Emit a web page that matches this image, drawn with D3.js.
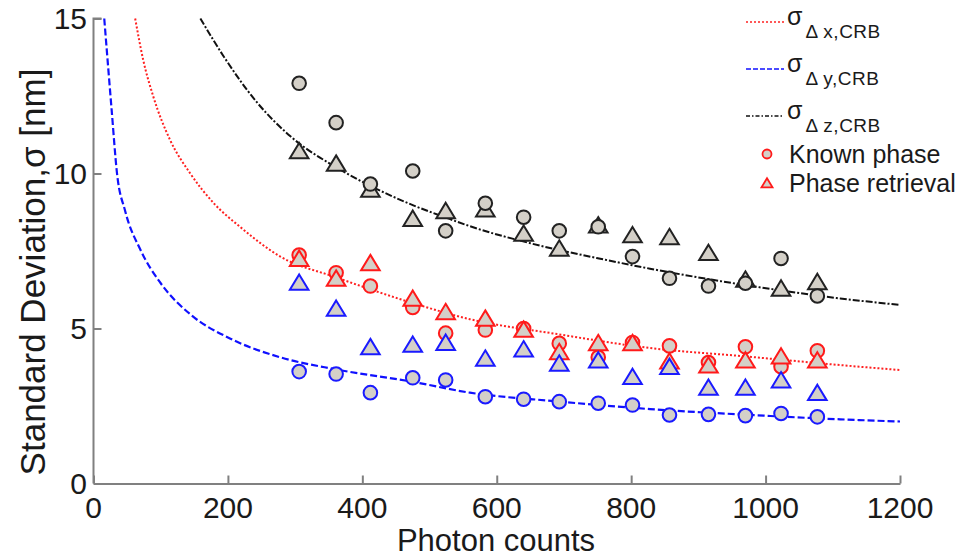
<!DOCTYPE html>
<meta charset="utf-8">
<style>
body { margin: 0; background: #fff; }
text { font-family: "Liberation Sans", Arial, sans-serif; fill: #1a1a1a; }
.axis path, .axis line { stroke: #808080; stroke-width: 2px; }
</style>
<svg width="968" height="558"></svg>
<script src="https://d3js.org/d3.v7.min.js"></script>
<script>

// photon counts of the measured points
var counts = [306, 361, 412, 475, 524, 583, 640, 693, 751, 802, 857, 915, 970, 1023, 1077];

// measured std dev (nm), known phase (circles) and phase retrieval (triangles)
var xKnown = [7.37, 6.80, 6.37, 5.68, 4.85, 4.95, 5.00, 4.52, 4.07, 4.55, 4.44, 3.90, 4.41, 3.77, 4.28];
var xRetr  = [7.26, 6.62, 7.12, 5.97, 5.54, 5.33, 4.97, 4.25, 4.54, 4.54, 3.95, 3.82, 3.98, 4.11, 3.98];
var yKnown = [3.61, 3.53, 2.93, 3.41, 3.34, 2.80, 2.72, 2.64, 2.59, 2.53, 2.21, 2.23, 2.19, 2.26, 2.15];
var yRetr  = [6.49, 5.65, 4.41, 4.49, 4.55, 4.04, 4.34, 3.88, 3.98, 3.45, 3.77, 3.10, 3.10, 3.34, 2.93];
var zKnown = [12.91, 11.64, 9.66, 10.08, 8.15, 9.04, 8.59, 8.15, 8.28, 7.32, 6.62, 6.37, 6.46, 7.26, 6.05];
var zRetr  = [10.73, 10.33, 9.49, 8.55, 8.80, 8.85, 8.07, 7.59, 8.34, 8.02, 7.96, 7.45, 6.59, 6.30, 6.51];

// CRB curves
var crbXn = [62, 74, 89, 114, 144, 179, 218, 278, 361, 475, 560, 690, 828, 970, 1111, 1200];
var crbXv = [15, 13.66, 12.48, 11.08, 10.0, 9.04, 8.28, 7.32, 6.65, 5.82, 5.30, 4.82, 4.37, 4.10, 3.82, 3.66];
var crbYn = [16, 27, 35, 47, 70, 100, 145, 203, 278, 361, 475, 560, 690, 828, 970, 1111, 1200];
var crbYv = [15, 12.05, 10.0, 8.8, 7.53, 6.46, 5.44, 4.68, 4.07, 3.68, 3.28, 2.93, 2.65, 2.40, 2.22, 2.07, 2.0];
var crbZn = [159, 193, 243, 293, 361, 412, 475, 524, 560, 650, 754, 828, 970, 1111, 1200];
var crbZv = [15, 13.8, 12.3, 11.2, 10.2, 9.6, 8.98, 8.58, 8.3, 7.75, 7.25, 6.93, 6.40, 5.97, 5.76];

var xTicks = [0, 200, 400, 600, 800, 1000, 1200];
var yTicks = [0, 5, 10, 15];

var svg = d3.select("svg");

var x = d3.scaleLinear().domain([0, 1200]).range([93.5, 900]);
var y = d3.scaleLinear().domain([0, 15]).range([483.5, 18.5]);

var fillGray = "#d4d0c8";

// axes: only left and bottom, ticks inward
var xAxis = svg.append("g")
    .attr("class", "axis")
    .attr("transform", "translate(0," + y(0) + ")")
    .call(d3.axisBottom(x).tickValues(xTicks).tickSizeInner(-8).tickSizeOuter(0).tickFormat(""));
var yAxis = svg.append("g")
    .attr("class", "axis")
    .attr("transform", "translate(" + x(0) + ",0)")
    .call(d3.axisLeft(y).tickValues(yTicks).tickSizeInner(-8).tickSizeOuter(0).tickFormat(""));
yAxis.select(".domain").attr("d", "M8," + y(15) + "H0V" + y(0));

svg.append("g").selectAll("text")
    .data(xTicks)
    .enter().append("text")
      .attr("x", function(d) { return x(d); })
      .attr("y", 518)
      .attr("text-anchor", "middle")
      .style("font-size", "30px")
      .text(function(d) { return d; });

svg.append("g").selectAll("text")
    .data(yTicks)
    .enter().append("text")
      .attr("x", 87)
      .attr("y", function(d) { return y(d) + 10.5; })
      .attr("text-anchor", "end")
      .style("font-size", "30px")
      .text(function(d) { return d; });

svg.append("text")
    .attr("x", 496)
    .attr("y", 551)
    .attr("text-anchor", "middle")
    .style("font-size", "31px")
    .text("Photon counts");

svg.append("text")
    .attr("transform", "translate(45,272) rotate(-90)")
    .attr("text-anchor", "middle")
    .style("font-size", "35px")
    .text("Standard Deviation,\u03c3 [nm]");

// CRB lines
var line = d3.line()
    .x(function(d) { return x(d[0]); })
    .y(function(d) { return y(d[1]); })
    .curve(d3.curveMonotoneX);

var curves = [
  { n: crbXn, v: crbXv, color: "#ff2020", dash: "2,2", w: 2 },
  { n: crbYn, v: crbYv, color: "#1010ff", dash: "7,3", w: 2.2 },
  { n: crbZn, v: crbZv, color: "#111", dash: "7,2,2,2", w: 2 }
];

svg.append("g").selectAll("path")
    .data(curves)
    .enter().append("path")
      .attr("fill", "none")
      .attr("stroke", function(d) { return d.color; })
      .attr("stroke-width", function(d) { return d.w; })
      .attr("stroke-dasharray", function(d) { return d.dash; })
      .attr("d", function(d) { return line(d3.zip(d.n, d.v)); });

// markers
function triPath(s) {
  return "M0," + (-s * 0.85) + "L" + s + "," + (s * 0.8) + "L" + (-s) + "," + (s * 0.8) + "Z";
}

var series = [
  { vals: zRetr, color: "#222", shape: "tri" },
  { vals: zKnown, color: "#222", shape: "circ" },
  { vals: xKnown, color: "#ff1a1a", shape: "circ" },
  { vals: xRetr, color: "#ff1a1a", shape: "tri" },
  { vals: yKnown, color: "#1a1aff", shape: "circ" },
  { vals: yRetr, color: "#1a1aff", shape: "tri" }
];

series.forEach(function(s) {
  var g = svg.append("g");
  var pts = d3.zip(counts, s.vals);
  if (s.shape === "circ") {
    g.selectAll("circle").data(pts).enter().append("circle")
        .attr("cx", function(d) { return x(d[0]); })
        .attr("cy", function(d) { return y(d[1]); })
        .attr("r", 6.8)
        .attr("fill", fillGray)
        .attr("stroke", s.color)
        .attr("stroke-width", 2);
  } else {
    g.selectAll("path").data(pts).enter().append("path")
        .attr("transform", function(d) { return "translate(" + x(d[0]) + "," + y(d[1]) + ")"; })
        .attr("d", triPath(9.3))
        .attr("fill", fillGray)
        .attr("stroke", s.color)
        .attr("stroke-width", 2)
        .attr("stroke-linejoin", "miter");
  }
});

// legend
var legLines = [
  { sub: "\u0394 x,CRB", color: "#ff2020", dash: "2,2", y: 22 },
  { sub: "\u0394 y,CRB", color: "#1010ff", dash: "5,2", y: 69 },
  { sub: "\u0394 z,CRB", color: "#111", dash: "4,2,1.5,2", y: 116 }
];

var leg = svg.append("g");
legLines.forEach(function(d) {
  leg.append("line")
      .attr("x1", 746).attr("x2", 784)
      .attr("y1", d.y).attr("y2", d.y)
      .attr("stroke", d.color)
      .attr("stroke-width", 1.6)
      .attr("stroke-dasharray", d.dash);
  var t = leg.append("text")
      .attr("x", 787)
      .attr("y", d.y + 3)
      .style("font-size", "25px");
  t.append("tspan").text("\u03c3");
  t.append("tspan")
      .attr("dx", 3)
      .attr("dy", 13)
      .style("font-size", "19px")
      .style("letter-spacing", "0.5px")
      .text(d.sub);
});

leg.append("circle")
    .attr("cx", 767).attr("cy", 154).attr("r", 4.5)
    .attr("fill", fillGray).attr("stroke", "#ff1a1a").attr("stroke-width", 1.8);
leg.append("text")
    .attr("x", 789).attr("y", 163)
    .style("font-size", "25px")
    .text("Known phase");

leg.append("path")
    .attr("transform", "translate(767,183)")
    .attr("d", triPath(5.5))
    .attr("fill", fillGray).attr("stroke", "#ff1a1a").attr("stroke-width", 1.8);
leg.append("text")
    .attr("x", 789).attr("y", 192)
    .style("font-size", "25px")
    .text("Phase retrieval");

</script>
